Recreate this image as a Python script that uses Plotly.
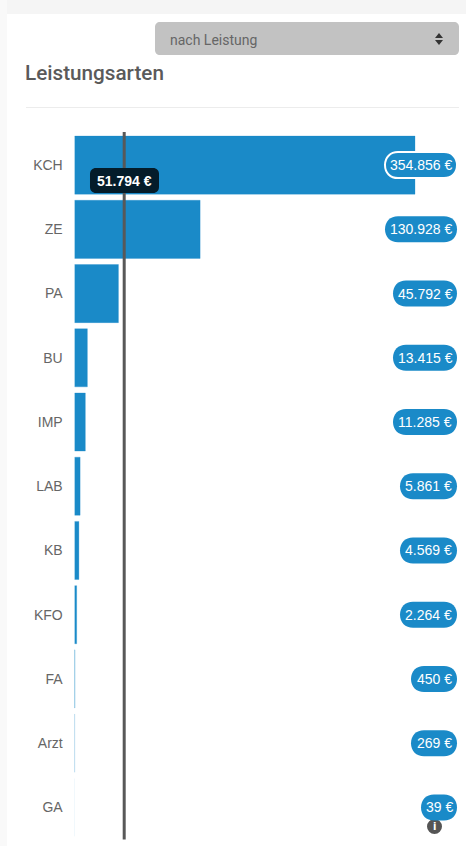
import plotly.graph_objects as go

categories = ["KCH", "ZE", "PA", "BU", "IMP", "LAB", "KB", "KFO", "FA", "Arzt", "GA"]
values = [354856, 130928, 45792, 13415, 11285, 5861, 4569, 2264, 450, 269, 39]
value_labels = ["354.856 €", "130.928 €", "45.792 €", "13.415 €", "11.285 €", "5.861 €",
                "4.569 €", "2.264 €", "450 €", "269 €", "39 €"]
edge_alpha = [0.28, 0.28, 0.28, 0.28, 0.28, 0.28, 0.28, 0.28, 0.30, 0.17, 0.04]
average_value = 51794
average_label = "51.794 €"
title_text = "Leistungsarten"
select_text = "nach Leistung"

W, H = 466, 846
BLUE = "#1a8ac8"
PLOT_L, PLOT_T, PLOT_B = 74.5, 133, 839.5
PX_PER_UNIT = (415 - 74.5) / 354856
X_MAX = (W - PLOT_L) / PX_PER_UNIT
PILL_WIDTH = {9: 72, 8: 64, 7: 57, 5: 46, 4: 36}
SANS = "Liberation Sans"
K = 0.4  # bezier handle offset fraction for rounded corners


def fx(p):
    return p / W


def fy(p):
    return 1 - p / H


def round_rect(x0, y0, x1, y1, r, tx=fx, ty=fy):
    k = r * K
    pts = [
        ("M", x0 + r, y0), ("L", x1 - r, y0), ("C", x1 - k, y0, x1, y0 + k, x1, y0 + r),
        ("L", x1, y1 - r), ("C", x1, y1 - k, x1 - k, y1, x1 - r, y1), ("L", x0 + r, y1),
        ("C", x0 + k, y1, x0, y1 - k, x0, y1 - r), ("L", x0, y0 + r), ("C", x0, y0 + k, x0 + k, y0, x0 + r, y0),
    ]
    out = []
    for p in pts:
        nums = []
        for i in range(1, len(p), 2):
            nums.append(f"{tx(p[i]):.5f},{ty(p[i + 1]):.5f}")
        out.append(p[0] + " ".join(nums))
    return " ".join(out) + " Z"


def ident(v):
    return v


fig = go.Figure()
fig.add_trace(go.Bar(
    y=categories, x=values, orientation="h",
    marker=dict(color=BLUE, line=dict(color=[f"rgba(26,138,200,{a})" for a in edge_alpha], width=1)),
    width=0.905, hoverinfo="skip", showlegend=False,
))

shapes = [
    # page backdrop behind the card
    dict(type="rect", xref="paper", yref="paper", x0=0, x1=1, y0=fy(14), y1=1,
         fillcolor="#f5f5f5", line_width=0, layer="below"),
    dict(type="rect", xref="paper", yref="paper", x0=0, x1=fx(7), y0=0, y1=1,
         fillcolor="#f9f9f9", line_width=0, layer="below"),
    # select box
    dict(type="path", xref="paper", yref="paper", path=round_rect(155, 22, 459, 55, 5),
         fillcolor="#c2c2c2", line_width=0, layer="below"),
    dict(type="path", xref="paper", yref="paper",
         path=f"M{fx(435)},{fy(38)} L{fx(443)},{fy(38)} L{fx(439)},{fy(33)} Z "
              f"M{fx(435)},{fy(40)} L{fx(443)},{fy(40)} L{fx(439)},{fy(45)} Z",
         fillcolor="#333333", line_width=0, layer="below"),
    # divider
    dict(type="line", xref="paper", yref="paper", x0=fx(26), x1=fx(459), y0=fy(107.5), y1=fy(107.5),
         line=dict(color="#ececec", width=1), layer="below"),
    # average line
    dict(type="line", xref="x", yref="paper", x0=average_value, x1=average_value, y0=fy(132), y1=fy(839.5),
         line=dict(color="#585858", width=3)),
    # average tooltip
    dict(type="path", xref="paper", yref="paper", path=round_rect(90, 168, 159, 193, 6),
         fillcolor="#041c2a", line_width=0),
    # info icon
    dict(type="circle", xref="paper", yref="paper", x0=fx(427), x1=fx(442), y0=fy(819), y1=fy(834),
         fillcolor="#555555", line_width=0),
]

annotations = [
    dict(text=title_text, xref="paper", yref="paper", x=fx(23), y=fy(72.5), xanchor="left", yanchor="middle",
         showarrow=False, font=dict(family="Roboto", size=20.7, color="#5a5a5a", weight=500)),
    dict(text=select_text, xref="paper", yref="paper", x=fx(168), y=fy(39.5), xanchor="left", yanchor="middle",
         showarrow=False, font=dict(family="Roboto", size=14, color="#666666")),
    dict(text=f"<b>{average_label}</b>", xref="paper", yref="paper", x=fx(124.5), y=fy(180.5),
         xanchor="center", yanchor="middle", showarrow=False,
         font=dict(family=SANS, size=14, color="#ffffff")),
    dict(text="<b>i</b>", xref="paper", yref="paper", x=fx(434.5), y=fy(826.5), xanchor="center", yanchor="middle",
         showarrow=False, font=dict(family="DejaVu Sans", size=10, color="#ffffff")),
]

PILL_RIGHT = 457
for i, (cat, lab) in enumerate(zip(categories, value_labels)):
    w = PILL_WIDTH[len(lab)]
    shapes.append(dict(
        type="path", xref="paper", yref="y", xsizemode="pixel", ysizemode="pixel",
        xanchor=fx(PILL_RIGHT), yanchor=i,
        path=round_rect(-w, -13, 0, 13, 13, tx=ident, ty=ident),
        fillcolor=BLUE,
        line=dict(color="#ffffff", width=2) if i == 0 else dict(width=0),
    ))
    annotations.append(dict(
        text=lab, xref="paper", yref="y", x=fx(PILL_RIGHT - w / 2), y=cat, xanchor="center", yanchor="middle",
        showarrow=False, font=dict(family=SANS, size=14, color="#ffffff"),
    ))

fig.update_layout(
    width=W, height=H, autosize=False, margin=dict(l=0, r=0, t=0, b=0, pad=0),
    paper_bgcolor="#ffffff", plot_bgcolor="rgba(0,0,0,0)",
    xaxis=dict(domain=[fx(PLOT_L), 1], range=[0, X_MAX], visible=False, fixedrange=True),
    yaxis=dict(domain=[fy(PLOT_B), fy(PLOT_T)], type="category", categoryorder="array",
               categoryarray=categories, range=[10.5, -0.5], showgrid=False, zeroline=False, showline=False,
               ticks="outside", ticklen=8, tickcolor="rgba(0,0,0,0)",
               tickfont=dict(family=SANS, size=14, color="#666666"), fixedrange=True),
    shapes=shapes, annotations=annotations, showlegend=False,
)

fig.write_html("out.html", config=dict(displayModeBar=False),
               post_script="document.body.style.margin='0';document.body.style.overflow='hidden';")
